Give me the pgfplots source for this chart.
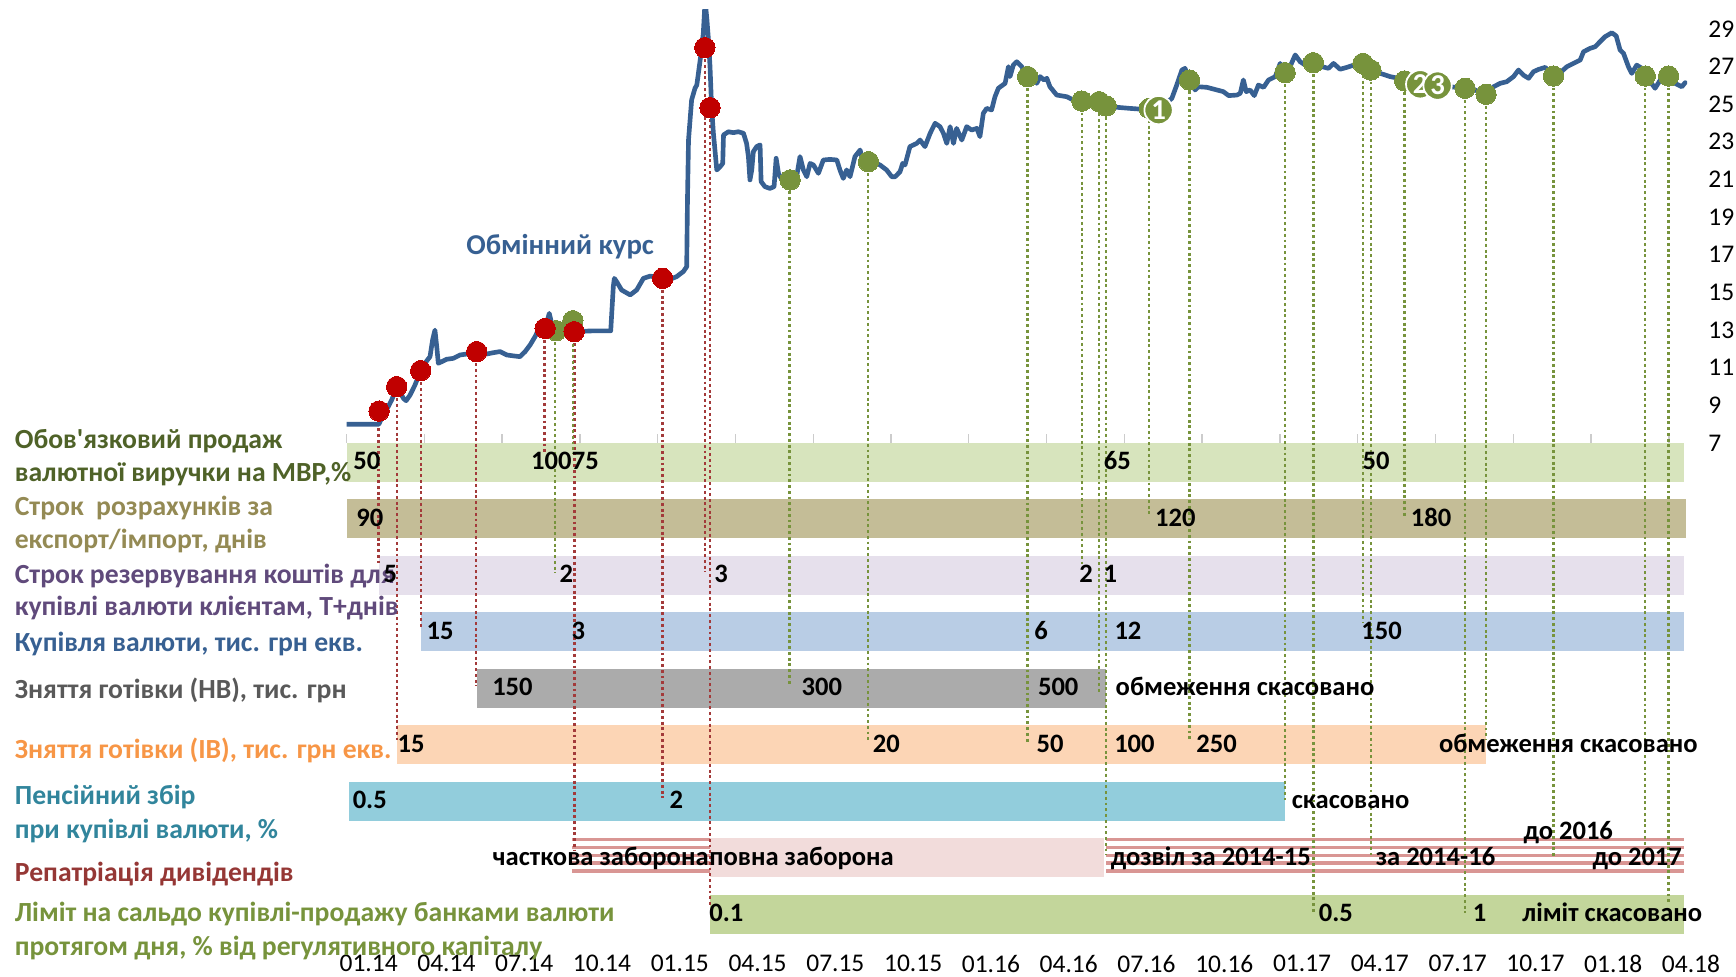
\documentclass[border=0pt]{standalone}
\usepackage{pgfplots}
\pgfplotsset{compat=1.18}
\usepackage{fontspec}
\setmainfont{Carlito}
\definecolor{rate}{HTML}{376092}
\definecolor{rdot}{HTML}{C00000}
\definecolor{gdot}{HTML}{77933C}
\definecolor{rline}{HTML}{A33A3A}
\definecolor{b1}{HTML}{D7E4BD}
\definecolor{b2}{HTML}{C4BD97}
\definecolor{b3}{HTML}{E6E0EC}
\definecolor{b4}{HTML}{B9CDE5}
\definecolor{b5}{HTML}{ABABAB}
\definecolor{b6}{HTML}{FCD5B5}
\definecolor{b7}{HTML}{92CDDC}
\definecolor{b8}{HTML}{F2DCDB}
\definecolor{b8s}{HTML}{D99694}
\definecolor{b9}{HTML}{C3D69B}
\definecolor{t1}{HTML}{4F6228}
\definecolor{t2}{HTML}{948A54}
\definecolor{t3}{HTML}{604A7B}
\definecolor{t4}{HTML}{376092}
\definecolor{t5}{HTML}{595959}
\definecolor{t6}{HTML}{F79646}
\definecolor{t7}{HTML}{31859C}
\definecolor{t8}{HTML}{953735}
\definecolor{t9}{HTML}{77933C}
\newcommand{\lblfont}{\fontsize{12}{14}\selectfont\bfseries}
\newcommand{\sidefont}{\fontsize{12.5}{15}\selectfont\bfseries}
\newcommand{\dropR}[3]{\addplot[rline, line width=1.1pt, dash pattern=on 1.3pt off 1.3pt] coordinates {(#1,#2)(#1,#3)};}
\newcommand{\dropG}[3]{\addplot[gdot, line width=1.1pt, dash pattern=on 1.3pt off 1.3pt] coordinates {(#1,#2)(#1,#3)};}
\newcommand{\barval}[3]{\node[anchor=base, inner sep=0pt, font=\lblfont] at (axis cs:#1,#2) {#3};}
\newcommand{\bartxt}[3]{\node[anchor=base west, inner sep=0pt, font=\lblfont] at (axis cs:#1,#2) {#3};}
\newcommand{\sidelbl}[3]{\node[anchor=base west, inner sep=0pt, font=\sidefont, text=#3] at (axis cs:-12.81,#1) {#2};}
\begin{document}
\begin{tikzpicture}
\begin{axis}[
  x=11.71pt, y=8.5pt,
  xmin=0, xmax=51.7, ymin=-20, ymax=30,
  clip mode=individual,
  axis line style={draw=none},
  major tick length=0pt,
  xtick={0,3,6,9,12,15,18,21,24,27,30,33,36,39,42,45,48,51},
  xticklabels={01.14,04.14,07.14,10.14,01.15,04.15,07.15,10.15,01.16,04.16,07.16,10.16,01.17,04.17,07.17,10.17,01.18,04.18},
  xticklabel style={font=\fontsize{11.5}{13}\selectfont, anchor=north, inner sep=0pt, xshift=10pt, yshift=-1.8pt},
  ytick={7,9,11,13,15,17,19,21,23,25,27,29},
  yticklabel pos=right,
  yticklabel style={font=\fontsize{11.5}{13}\selectfont, anchor=west, inner sep=0pt, xshift=9.5pt},
  /pgf/number format/assume math mode=true,
]
\coordinate (BL) at (axis cs:-13.365,-21.35);
\coordinate (TR) at (axis cs:53.59,30.53);
% small ticks on top of first bar
\pgfplotsinvokeforeach{0,3,6,9,12,15,18,21,24,27,30,33,36,39,42,45,48,51}{
  \draw[black!20, line width=0.6pt] (axis cs:#1,7) -- (axis cs:#1,7.45);
}
% bars
\addplot[fill=b1, draw=none] coordinates {(0.03,7)(51.6,7)(51.6,4.92)(0.03,4.92)};
\addplot[fill=b2, draw=none] coordinates {(0,4)(51.65,4)(51.65,1.92)(0,1.92)};
\addplot[fill=b3, draw=none] coordinates {(1.26,1)(51.6,1)(51.6,-1.08)(1.26,-1.08)};
\addplot[fill=b4, draw=none] coordinates {(2.87,-2)(51.6,-2)(51.6,-4.08)(2.87,-4.08)};
\addplot[fill=b5, draw=none] coordinates {(5.04,-5)(29.28,-5)(29.28,-7.08)(5.04,-7.08)};
\addplot[fill=b6, draw=none] coordinates {(1.94,-8)(43.94,-8)(43.94,-10.08)(1.94,-10.08)};
\addplot[fill=b7, draw=none] coordinates {(0.1,-11)(36.2,-11)(36.2,-13.08)(0.1,-13.08)};
\addplot[fill=b8, draw=none] coordinates {(14.02,-14)(29.22,-14)(29.22,-16.08)(14.02,-16.08)};
\addplot[fill=b9, draw=none] coordinates {(14.02,-17)(51.57,-17)(51.57,-19.08)(14.02,-19.08)};
% striped (partial) repatriation
\addplot[draw=b8s, line width=1.5pt] coordinates {(8.69,-14.07)(14.02,-14.07)};
\addplot[draw=b8s, line width=1.5pt] coordinates {(8.69,-14.49)(14.02,-14.49)};
\addplot[draw=b8s, line width=1.5pt] coordinates {(8.69,-14.91)(14.02,-14.91)};
\addplot[draw=b8s, line width=1.5pt] coordinates {(8.69,-15.33)(14.02,-15.33)};
\addplot[draw=b8s, line width=1.5pt] coordinates {(8.69,-15.75)(14.02,-15.75)};
\addplot[draw=b8s, line width=1.5pt] coordinates {(29.3,-14.07)(51.6,-14.07)};
\addplot[draw=b8s, line width=1.5pt] coordinates {(29.3,-14.49)(51.6,-14.49)};
\addplot[draw=b8s, line width=1.5pt] coordinates {(29.3,-14.91)(51.6,-14.91)};
\addplot[draw=b8s, line width=1.5pt] coordinates {(29.3,-15.33)(51.6,-15.33)};
\addplot[draw=b8s, line width=1.5pt] coordinates {(29.3,-15.75)(51.6,-15.75)};
% drop lines
\dropR{1.24}{8.69}{0.6}
\dropR{1.94}{9.99}{-8.79}
\dropR{2.87}{10.84}{-2.86}
\dropR{5.0}{11.85}{-5.94}
\dropR{7.64}{13.08}{6.47}
\dropR{8.8}{12.91}{-14.65}
\dropR{12.18}{15.74}{-11.88}
\dropR{13.82}{28.0}{0.15}
\dropR{14.02}{24.81}{-17.7}
\dropG{8.05}{12.96}{0.07}
\dropG{8.74}{13.49}{6.45}
\dropG{17.09}{20.97}{-5.94}
\dropG{20.12}{21.94}{-8.85}
\dropG{26.27}{26.46}{-8.97}
\dropG{28.36}{25.16}{0.53}
\dropG{29.03}{25.13}{-6.24}
\dropG{29.3}{24.9}{-14.88}
\dropG{30.96}{24.77}{3.08}
\dropG{32.51}{26.28}{-8.88}
\dropG{36.2}{26.67}{-11.98}
\dropG{37.29}{27.2}{-18.0}
\dropG{39.2}{27.16}{-2.59}
\dropG{39.51}{26.81}{-14.88}
\dropG{40.81}{26.23}{3.0}
\dropG{43.14}{25.84}{-18.0}
\dropG{43.95}{25.52}{-8.79}
\dropG{46.55}{26.49}{-15.0}
\dropG{50.09}{26.49}{-14.47}
\dropG{50.98}{26.49}{-17.47}
% exchange rate
\addplot[rate, line width=2.1pt, line join=round, line cap=round] coordinates {
(0,7.99)(0.5,7.99)(1.0,7.99)(1.25,7.99)(1.4,8.45)(1.6,8.9)(1.75,9.3)(1.935,9.99)
(2.06,9.72)(2.2,9.35)(2.3,9.24)(2.45,9.54)(2.64,10.07)(2.86,10.84)(3.07,11.31)(3.22,11.58)
(3.32,12.47)(3.41,12.99)(3.48,12.11)(3.54,11.23)(3.67,11.31)(3.86,11.44)(4.12,11.49)(4.38,11.67)
(4.64,11.72)(5.02,11.85)(5.41,11.72)(5.66,11.79)(5.92,11.85)(6.18,11.67)(6.44,11.62)(6.69,11.58)
(6.89,11.85)(7.08,12.2)(7.27,12.64)(7.46,13.17)(7.66,13.08)(7.82,13.88)(7.91,13.35)(8.08,12.96)
(8.24,12.64)(8.49,12.91)(8.78,12.91)(9.5,12.95)(10.19,12.95)(10.23,13.9)(10.29,15.3)(10.33,15.74)
(10.42,15.56)(10.61,15.12)(10.94,14.86)(11.19,15.12)(11.45,15.74)(11.71,15.86)(12.19,15.74)(12.48,15.69)
(12.73,15.83)(12.99,16.1)(13.12,16.36)(13.15,19.9)(13.19,23.09)(13.31,25.22)(13.44,25.84)(13.51,26.01)
(13.64,27.34)(13.76,28.76)(13.83,30.5)(13.9,29.5)(13.96,28.4)(14.02,26.99)(14.08,24.86)(14.15,23.45)
(14.21,22.56)(14.28,21.5)(14.41,21.67)(14.51,21.85)(14.54,23.36)(14.73,23.53)(14.92,23.48)(15.11,23.53)
(15.31,23.45)(15.43,22.91)(15.5,22.21)(15.56,20.97)(15.63,21.5)(15.69,22.47)(15.82,22.74)(15.95,22.83)
(15.99,20.88)(16.14,20.61)(16.33,20.52)(16.49,20.61)(16.57,22.12)(16.66,21.32)(16.79,20.97)(17.11,20.97)
(17.36,21.14)(17.49,22.21)(17.62,21.5)(17.75,21.14)(17.88,21.85)(18.01,21.76)(18.2,21.32)(18.39,22.03)
(18.65,22.06)(18.91,22.03)(19.03,21.5)(19.16,21.05)(19.29,21.5)(19.42,21.14)(19.61,22.21)(19.81,22.56)
(19.93,21.85)(20.13,21.94)(20.32,21.94)(20.58,21.76)(20.83,21.5)(21.03,21.14)(21.16,21.14)(21.35,21.41)
(21.45,21.85)(21.54,21.76)(21.73,22.74)(21.99,22.91)(22.12,23.09)(22.31,22.74)(22.51,23.45)(22.7,23.98)
(22.89,23.8)(23.02,23.45)(23.15,22.91)(23.28,23.8)(23.41,22.91)(23.53,23.71)(23.73,23.09)(23.92,23.8)
(24.11,23.62)(24.31,23.71)(24.43,23.27)(24.56,24.51)(24.69,24.77)(24.88,24.69)(25.01,25.39)(25.14,25.84)
(25.4,26.1)(25.53,26.99)(25.59,26.46)(25.72,27.08)(25.85,27.25)(26.04,26.99)(26.27,26.46)(26.49,26.63)
(26.62,26.1)(26.75,26.46)(26.9,26.28)(27.01,26.37)(27.13,25.92)(27.39,25.48)(27.78,25.39)(28.03,25.22)
(28.36,25.16)(28.68,25.04)(29.03,25.13)(29.3,24.9)(29.71,24.83)(30.22,24.77)(30.74,24.72)(30.96,24.77)
(31.51,24.95)(31.83,25.3)(32.02,26.01)(32.22,26.81)(32.34,26.9)(32.51,26.28)(32.73,25.75)(32.86,25.92)
(33.18,25.89)(33.57,25.75)(33.82,25.66)(34.02,25.45)(34.34,25.48)(34.47,25.57)(34.59,26.28)(34.7,25.66)
(34.85,25.75)(35.01,25.45)(35.17,26.01)(35.37,25.89)(35.56,26.28)(35.82,26.46)(36.01,27.16)(36.2,26.67)
(36.39,26.99)(36.59,27.61)(36.78,27.25)(36.97,27.08)(37.29,27.2)(37.61,26.99)(37.87,26.9)(38.07,27.16)
(38.32,26.85)(38.58,26.95)(38.84,27.07)(39.2,27.16)(39.51,26.81)(39.87,26.63)(40.25,26.46)(40.57,26.37)
(40.81,26.23)(41.41,26.05)(42.08,25.98)(42.56,25.92)(43.14,25.84)(43.4,25.84)(43.66,25.66)(43.95,25.52)
(44.24,25.92)(44.49,26.1)(44.75,26.19)(45.01,26.46)(45.2,26.81)(45.39,26.54)(45.59,26.37)(45.78,26.72)
(45.97,26.84)(46.23,26.95)(46.55,26.49)(46.81,26.67)(47.07,26.99)(47.32,27.16)(47.58,27.34)(47.71,27.78)
(47.96,27.96)(48.16,28.05)(48.35,28.32)(48.54,28.58)(48.8,28.79)(48.97,28.62)(49.12,27.87)(49.25,27.7)
(49.44,26.99)(49.57,26.63)(49.76,27.07)(49.96,26.9)(50.09,26.49)(50.28,26.19)(50.47,25.84)(50.67,26.28)
(50.99,26.49)(51.24,26.1)(51.5,25.92)(51.63,26.14)
};
% event dots
\addplot[only marks, color=gdot, mark=*, mark size=4.6pt, mark options={fill=gdot, draw=gdot, line width=0pt}] coordinates {
(8.08,12.96)(8.73,13.49)(17.11,20.97)(20.13,21.94)(26.27,26.46)(28.36,25.16)(29.03,25.13)(29.3,24.9)
(30.96,24.77)(32.51,26.28)(36.2,26.67)(37.29,27.2)(39.2,27.16)(39.51,26.81)(40.81,26.23)(43.14,25.84)
(43.95,25.52)(46.55,26.49)(50.09,26.49)(50.99,26.49)};
\addplot[only marks, color=rdot, mark=*, mark size=4.6pt, mark options={fill=rdot, draw=rdot, line width=0pt}] coordinates {
(1.254,8.69)(1.935,9.99)(2.86,10.84)(5.02,11.85)(7.66,13.08)(8.78,12.91)(12.19,15.74)(13.82,28.0)(14.02,24.81)};
\addplot[only marks, color=gdot, mark=*, mark size=6.4pt, mark options={fill=gdot, draw=white, line width=0.8pt},
  nodes near coords, point meta=explicit symbolic,
  every node near coord/.append style={anchor=center, inner sep=0pt, text=white, font=\fontsize{13}{15}\selectfont\bfseries}]
  coordinates {(31.32,24.68)[1] (41.41,26.05)[2] (42.08,25.98)[3]};
% chart label
\node[anchor=base, inner sep=0pt, text=rate, font=\fontsize{13}{15}\selectfont\bfseries] at (axis cs:8.24,17.0) {Обмінний курс};
% left labels
\sidelbl{6.72}{Обов\textquotesingle язковий продаж}{t1}
\sidelbl{4.93}{валютної виручки на МВР,\%}{t1}
\sidelbl{3.12}{Строк\ \ розрахунків за}{t2}
\sidelbl{1.41}{експорт/імпорт, днів}{t2}
\sidelbl{-0.45}{Строк резервування коштів для}{t3}
\sidelbl{-2.17}{купівлі валюти клієнтам, Т+днів}{t3}
\sidelbl{-4.09}{Купівля валюти, тис. грн екв.}{t4}
\sidelbl{-6.6}{Зняття готівки (НВ), тис. грн}{t5}
\sidelbl{-9.75}{Зняття готівки (ІВ), тис. грн екв.}{t6}
\sidelbl{-12.22}{Пенсійний збір}{t7}
\sidelbl{-14.02}{при купівлі валюти, \%}{t7}
\sidelbl{-16.29}{Репатріація дивідендів}{t8}
\sidelbl{-18.43}{Ліміт на сальдо купівлі-продажу банками валюти}{t9}
\sidelbl{-20.24}{протягом дня, \% від регулятивного капіталу}{t9}
% bar values
\barval{0.786}{5.56}{50}\barval{7.9}{5.56}{100}\barval{9.21}{5.56}{75}\barval{29.73}{5.56}{65}\barval{39.71}{5.56}{50}
\barval{0.897}{2.56}{90}\barval{31.97}{2.56}{120}\barval{41.83}{2.56}{180}
\barval{1.69}{-0.44}{5}\barval{8.48}{-0.44}{2}\barval{14.45}{-0.44}{3}\barval{28.52}{-0.44}{2}\barval{29.46}{-0.44}{1}
\barval{3.61}{-3.44}{15}\barval{8.94}{-3.44}{3}\barval{26.79}{-3.44}{6}\barval{30.14}{-3.44}{12}\barval{39.92}{-3.44}{150}
\barval{6.4}{-6.44}{150}\barval{18.33}{-6.44}{300}\barval{27.45}{-6.44}{500}\bartxt{29.65}{-6.44}{обмеження скасовано}
\barval{2.49}{-9.44}{15}\barval{20.82}{-9.44}{20}\barval{27.14}{-9.44}{50}\barval{30.39}{-9.44}{100}\barval{33.56}{-9.44}{250}\bartxt{42.12}{-9.44}{обмеження скасовано}
\barval{0.897}{-12.44}{0.5}\barval{12.72}{-12.44}{2}\bartxt{36.44}{-12.44}{скасовано}
\node[anchor=base east, inner sep=0pt, font=\lblfont] at (axis cs:13.98,-15.45) {часткова заборона};
\bartxt{13.98}{-15.45}{повна заборона}
\bartxt{29.46}{-15.45}{дозвіл за 2014-15}
\bartxt{39.68}{-15.45}{за 2014-16}
\bartxt{45.38}{-14.06}{до 2016}
\bartxt{48.04}{-15.45}{до 2017}
\barval{14.65}{-18.44}{0.1}\barval{38.16}{-18.44}{0.5}\barval{43.7}{-18.44}{1}\bartxt{45.33}{-18.44}{ліміт скасовано}
\end{axis}
\pgfresetboundingbox
\path[use as bounding box] (BL) rectangle (TR);
\end{tikzpicture}
\end{document}
